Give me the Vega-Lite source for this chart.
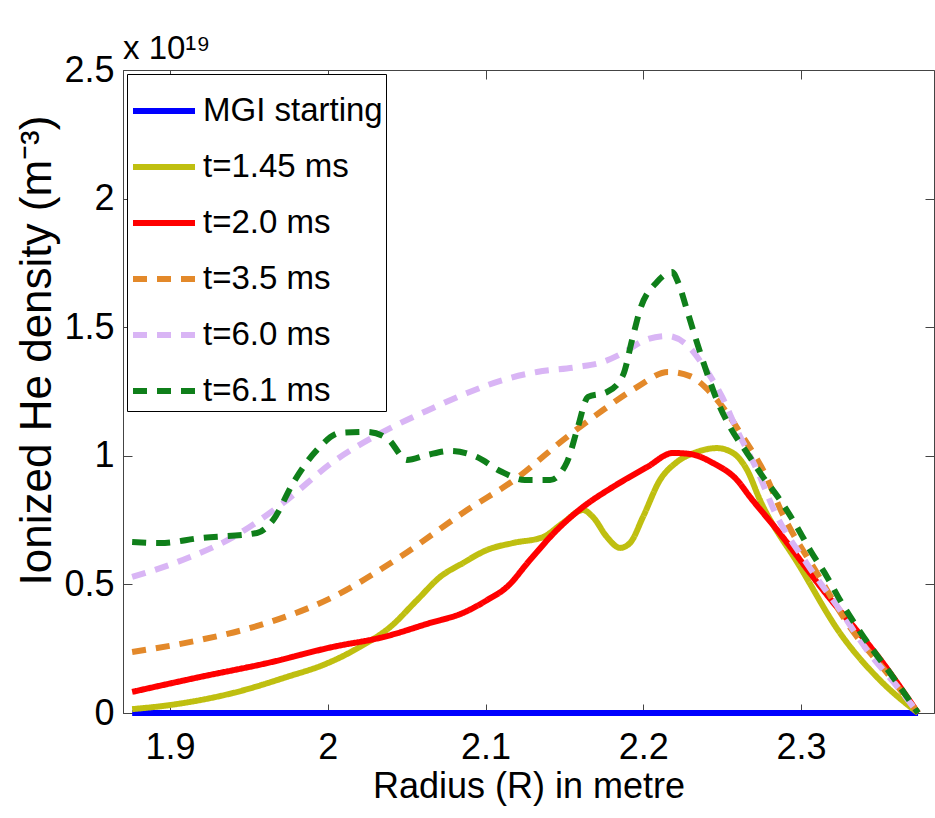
{
  "$schema": "https://vega.github.io/schema/vega-lite/v6.json",
  "width": 811,
  "height": 643,
  "autosize": {"type": "none"},
  "padding": {"left": 123, "top": 70, "right": 1, "bottom": 105},
  "background": "white",
  "title": {"text": "x 10¹⁹", "anchor": "start", "frame": "group", "font": "Liberation Sans", "fontSize": 33, "fontWeight": "normal", "color": "black", "offset": -14},
  "config": {"view": {"stroke": "#444", "strokeWidth": 1}},
  "data": {"values": [
    {"series": "MGI starting", "r": 1.876, "n": 0},
    {"series": "MGI starting", "r": 2.3742, "n": 0},
    {"series": "t=1.45 ms", "r": 1.876, "n": 0.015},
    {"series": "t=1.45 ms", "r": 1.9, "n": 0.031},
    {"series": "t=1.45 ms", "r": 1.94, "n": 0.078},
    {"series": "t=1.45 ms", "r": 1.974, "n": 0.14},
    {"series": "t=1.45 ms", "r": 2.0, "n": 0.194},
    {"series": "t=1.45 ms", "r": 2.0204, "n": 0.257},
    {"series": "t=1.45 ms", "r": 2.0395, "n": 0.334},
    {"series": "t=1.45 ms", "r": 2.0566, "n": 0.439},
    {"series": "t=1.45 ms", "r": 2.0712, "n": 0.529},
    {"series": "t=1.45 ms", "r": 2.0857, "n": 0.583},
    {"series": "t=1.45 ms", "r": 2.101, "n": 0.634},
    {"series": "t=1.45 ms", "r": 2.1174, "n": 0.661},
    {"series": "t=1.45 ms", "r": 2.1364, "n": 0.684},
    {"series": "t=1.45 ms", "r": 2.1491, "n": 0.739},
    {"series": "t=1.45 ms", "r": 2.1618, "n": 0.789},
    {"series": "t=1.45 ms", "r": 2.1681, "n": 0.762},
    {"series": "t=1.45 ms", "r": 2.177, "n": 0.684},
    {"series": "t=1.45 ms", "r": 2.1853, "n": 0.642},
    {"series": "t=1.45 ms", "r": 2.1916, "n": 0.661},
    {"series": "t=1.45 ms", "r": 2.1998, "n": 0.762},
    {"series": "t=1.45 ms", "r": 2.2106, "n": 0.906},
    {"series": "t=1.45 ms", "r": 2.2214, "n": 0.976},
    {"series": "t=1.45 ms", "r": 2.2341, "n": 1.015},
    {"series": "t=1.45 ms", "r": 2.2467, "n": 1.03},
    {"series": "t=1.45 ms", "r": 2.2569, "n": 1.011},
    {"series": "t=1.45 ms", "r": 2.2658, "n": 0.945},
    {"series": "t=1.45 ms", "r": 2.274, "n": 0.828},
    {"series": "t=1.45 ms", "r": 2.2994, "n": 0.568},
    {"series": "t=1.45 ms", "r": 2.3247, "n": 0.311},
    {"series": "t=1.45 ms", "r": 2.35, "n": 0.128},
    {"series": "t=1.45 ms", "r": 2.3742, "n": 0},
    {"series": "t=2.0 ms", "r": 1.876, "n": 0.082},
    {"series": "t=2.0 ms", "r": 1.919, "n": 0.14},
    {"series": "t=2.0 ms", "r": 1.9615, "n": 0.194},
    {"series": "t=2.0 ms", "r": 2.0033, "n": 0.257},
    {"series": "t=2.0 ms", "r": 2.035, "n": 0.295},
    {"series": "t=2.0 ms", "r": 2.0648, "n": 0.35},
    {"series": "t=2.0 ms", "r": 2.0857, "n": 0.389},
    {"series": "t=2.0 ms", "r": 2.101, "n": 0.439},
    {"series": "t=2.0 ms", "r": 2.1136, "n": 0.49},
    {"series": "t=2.0 ms", "r": 2.1282, "n": 0.595},
    {"series": "t=2.0 ms", "r": 2.1453, "n": 0.712},
    {"series": "t=2.0 ms", "r": 2.1618, "n": 0.801},
    {"series": "t=2.0 ms", "r": 2.1808, "n": 0.879},
    {"series": "t=2.0 ms", "r": 2.2024, "n": 0.956},
    {"series": "t=2.0 ms", "r": 2.2189, "n": 1.011},
    {"series": "t=2.0 ms", "r": 2.2296, "n": 1.007},
    {"series": "t=2.0 ms", "r": 2.2442, "n": 0.972},
    {"series": "t=2.0 ms", "r": 2.2594, "n": 0.906},
    {"series": "t=2.0 ms", "r": 2.2677, "n": 0.84},
    {"series": "t=2.0 ms", "r": 2.2848, "n": 0.712},
    {"series": "t=2.0 ms", "r": 2.314, "n": 0.478},
    {"series": "t=2.0 ms", "r": 2.352, "n": 0.194},
    {"series": "t=2.0 ms", "r": 2.3742, "n": 0},
    {"series": "t=3.5 ms", "r": 1.876, "n": 0.237},
    {"series": "t=3.5 ms", "r": 1.919, "n": 0.284},
    {"series": "t=3.5 ms", "r": 1.9615, "n": 0.35},
    {"series": "t=3.5 ms", "r": 2.0033, "n": 0.451},
    {"series": "t=3.5 ms", "r": 2.0458, "n": 0.607},
    {"series": "t=3.5 ms", "r": 2.0883, "n": 0.789},
    {"series": "t=3.5 ms", "r": 2.12, "n": 0.914},
    {"series": "t=3.5 ms", "r": 2.1491, "n": 1.061},
    {"series": "t=3.5 ms", "r": 2.1745, "n": 1.178},
    {"series": "t=3.5 ms", "r": 2.196, "n": 1.267},
    {"series": "t=3.5 ms", "r": 2.2157, "n": 1.326},
    {"series": "t=3.5 ms", "r": 2.2296, "n": 1.31},
    {"series": "t=3.5 ms", "r": 2.241, "n": 1.256},
    {"series": "t=3.5 ms", "r": 2.2518, "n": 1.178},
    {"series": "t=3.5 ms", "r": 2.2632, "n": 1.073},
    {"series": "t=3.5 ms", "r": 2.2759, "n": 0.945},
    {"series": "t=3.5 ms", "r": 2.2886, "n": 0.77},
    {"series": "t=3.5 ms", "r": 2.3101, "n": 0.544},
    {"series": "t=3.5 ms", "r": 2.331, "n": 0.334},
    {"series": "t=3.5 ms", "r": 2.3545, "n": 0.156},
    {"series": "t=3.5 ms", "r": 2.3742, "n": 0},
    {"series": "t=6.0 ms", "r": 1.876, "n": 0.529},
    {"series": "t=6.0 ms", "r": 1.908, "n": 0.595},
    {"series": "t=6.0 ms", "r": 1.94, "n": 0.684},
    {"series": "t=6.0 ms", "r": 1.9716, "n": 0.816},
    {"series": "t=6.0 ms", "r": 2.0033, "n": 0.976},
    {"series": "t=6.0 ms", "r": 2.035, "n": 1.093},
    {"series": "t=6.0 ms", "r": 2.0667, "n": 1.186},
    {"series": "t=6.0 ms", "r": 2.0883, "n": 1.244},
    {"series": "t=6.0 ms", "r": 2.1111, "n": 1.295},
    {"series": "t=6.0 ms", "r": 2.1326, "n": 1.326},
    {"series": "t=6.0 ms", "r": 2.158, "n": 1.345},
    {"series": "t=6.0 ms", "r": 2.1745, "n": 1.365},
    {"series": "t=6.0 ms", "r": 2.1872, "n": 1.4},
    {"series": "t=6.0 ms", "r": 2.2011, "n": 1.45},
    {"series": "t=6.0 ms", "r": 2.2151, "n": 1.466},
    {"series": "t=6.0 ms", "r": 2.2284, "n": 1.427},
    {"series": "t=6.0 ms", "r": 2.2391, "n": 1.341},
    {"series": "t=6.0 ms", "r": 2.25, "n": 1.229},
    {"series": "t=6.0 ms", "r": 2.2594, "n": 1.1},
    {"series": "t=6.0 ms", "r": 2.2721, "n": 0.945},
    {"series": "t=6.0 ms", "r": 2.2835, "n": 0.78},
    {"series": "t=6.0 ms", "r": 2.3038, "n": 0.58},
    {"series": "t=6.0 ms", "r": 2.3247, "n": 0.4},
    {"series": "t=6.0 ms", "r": 2.3418, "n": 0.245},
    {"series": "t=6.0 ms", "r": 2.3628, "n": 0.089},
    {"series": "t=6.0 ms", "r": 2.3742, "n": 0},
    {"series": "t=6.1 ms", "r": 1.876, "n": 0.665},
    {"series": "t=6.1 ms", "r": 1.8937, "n": 0.661},
    {"series": "t=6.1 ms", "r": 1.919, "n": 0.68},
    {"series": "t=6.1 ms", "r": 1.9552, "n": 0.7},
    {"series": "t=6.1 ms", "r": 1.9653, "n": 0.75},
    {"series": "t=6.1 ms", "r": 1.978, "n": 0.894},
    {"series": "t=6.1 ms", "r": 1.9932, "n": 1.023},
    {"series": "t=6.1 ms", "r": 2.0078, "n": 1.089},
    {"series": "t=6.1 ms", "r": 2.0249, "n": 1.093},
    {"series": "t=6.1 ms", "r": 2.0382, "n": 1.065},
    {"series": "t=6.1 ms", "r": 2.0502, "n": 0.984},
    {"series": "t=6.1 ms", "r": 2.0629, "n": 1.003},
    {"series": "t=6.1 ms", "r": 2.0775, "n": 1.019},
    {"series": "t=6.1 ms", "r": 2.0946, "n": 0.995},
    {"series": "t=6.1 ms", "r": 2.1092, "n": 0.941},
    {"series": "t=6.1 ms", "r": 2.125, "n": 0.906},
    {"series": "t=6.1 ms", "r": 2.1409, "n": 0.906},
    {"series": "t=6.1 ms", "r": 2.1517, "n": 0.976},
    {"series": "t=6.1 ms", "r": 2.158, "n": 1.1},
    {"series": "t=6.1 ms", "r": 2.165, "n": 1.229},
    {"series": "t=6.1 ms", "r": 2.177, "n": 1.248},
    {"series": "t=6.1 ms", "r": 2.1872, "n": 1.314},
    {"series": "t=6.1 ms", "r": 2.1929, "n": 1.45},
    {"series": "t=6.1 ms", "r": 2.1979, "n": 1.567},
    {"series": "t=6.1 ms", "r": 2.2087, "n": 1.676},
    {"series": "t=6.1 ms", "r": 2.2182, "n": 1.715},
    {"series": "t=6.1 ms", "r": 2.222, "n": 1.676},
    {"series": "t=6.1 ms", "r": 2.2277, "n": 1.567},
    {"series": "t=6.1 ms", "r": 2.2341, "n": 1.439},
    {"series": "t=6.1 ms", "r": 2.2404, "n": 1.322},
    {"series": "t=6.1 ms", "r": 2.2467, "n": 1.217},
    {"series": "t=6.1 ms", "r": 2.255, "n": 1.112},
    {"series": "t=6.1 ms", "r": 2.2658, "n": 1.011},
    {"series": "t=6.1 ms", "r": 2.2759, "n": 0.918},
    {"series": "t=6.1 ms", "r": 2.2867, "n": 0.828},
    {"series": "t=6.1 ms", "r": 2.2975, "n": 0.723},
    {"series": "t=6.1 ms", "r": 2.3057, "n": 0.634},
    {"series": "t=6.1 ms", "r": 2.3165, "n": 0.529},
    {"series": "t=6.1 ms", "r": 2.3247, "n": 0.439},
    {"series": "t=6.1 ms", "r": 2.3355, "n": 0.334},
    {"series": "t=6.1 ms", "r": 2.3456, "n": 0.245},
    {"series": "t=6.1 ms", "r": 2.3564, "n": 0.156},
    {"series": "t=6.1 ms", "r": 2.3672, "n": 0.062},
    {"series": "t=6.1 ms", "r": 2.3742, "n": 0}
  ]},
  "resolve": {"axis": {"x": "independent", "y": "independent"}},
  "layer": [
    {
      "mark": {"type": "line", "strokeWidth": 6, "strokeCap": "butt", "interpolate": "monotone", "clip": false},
      "encoding": {
        "x": {
          "field": "r", "type": "quantitative",
          "scale": {"domain": [1.8702, 2.3843], "nice": false, "zero": false},
          "axis": {
            "orient": "bottom",
            "values": [1.9, 2.0, 2.1, 2.2, 2.3], "format": "~g",
            "title": "Radius (R) in metre", "grid": false,
            "labelFont": "Liberation Sans", "labelFontSize": 36, "labelColor": "black",
            "titleFont": "Liberation Sans", "titleFontSize": 36, "titleFontWeight": "normal", "titleColor": "black",
            "domainColor": "#444", "tickColor": "#444", "tickSize": -9, "labelPadding": 26, "titlePadding": 4
          }
        },
        "y": {
          "field": "n", "type": "quantitative",
          "scale": {"domain": [0, 2.5], "nice": false},
          "axis": {
            "orient": "left",
            "values": [0, 0.5, 1, 1.5, 2, 2.5], "format": "~g",
            "title": "Ionized He density (m⁻³)", "grid": false,
            "labelFont": "Liberation Sans", "labelFontSize": 36, "labelColor": "black",
            "titleFont": "Liberation Sans", "titleFontSize": 44, "titleFontWeight": "normal", "titleColor": "black",
            "titleY": 280, "titleAlign": "center",
            "domainColor": "#444", "tickColor": "#444", "tickSize": -9, "labelPadding": 18, "titlePadding": 4
          }
        },
        "color": {
          "field": "series", "type": "nominal",
          "scale": {
            "domain": ["MGI starting", "t=1.45 ms", "t=2.0 ms", "t=3.5 ms", "t=6.0 ms", "t=6.1 ms"],
            "range": ["#0000FF", "#BFBF10", "#FF0000", "#E3892A", "#D9B5F5", "#0F7F1A"]
          },
          "legend": {
            "title": null, "orient": "top-left", "offset": 4, "titlePadding": 0,
            "labelFont": "Liberation Sans", "labelFontSize": 33, "labelColor": "black", "labelLimit": 400,
            "symbolType": "stroke", "symbolSize": 3844, "symbolStrokeWidth": 6,
            "rowPadding": 5, "labelOffset": 5,
            "strokeColor": "black", "fillColor": "white", "padding": 3
          }
        },
        "strokeDash": {
          "field": "series", "type": "nominal",
          "scale": {
            "domain": ["MGI starting", "t=1.45 ms", "t=2.0 ms", "t=3.5 ms", "t=6.0 ms", "t=6.1 ms"],
            "range": [[1, 0], [1, 0], [1, 0], [14, 10], [14, 10], [14, 10]]
          },
          "legend": {
            "title": null, "orient": "top-left", "offset": 4, "titlePadding": 0,
            "labelFont": "Liberation Sans", "labelFontSize": 33, "labelColor": "black", "labelLimit": 400,
            "symbolType": "stroke", "symbolSize": 3844, "symbolStrokeWidth": 6,
            "rowPadding": 5, "labelOffset": 5,
            "strokeColor": "black", "fillColor": "white", "padding": 3
          }
        }
      }
    },
    {
      "mark": {"type": "point", "opacity": 0},
      "encoding": {
        "x": {
          "field": "r", "type": "quantitative",
          "axis": {"orient": "top", "values": [1.9, 2.0, 2.1, 2.2, 2.3], "labels": false, "title": null, "grid": false, "domain": false, "tickColor": "#444", "tickSize": -9}
        },
        "y": {
          "field": "n", "type": "quantitative",
          "axis": {"orient": "right", "values": [0, 0.5, 1, 1.5, 2, 2.5], "labels": false, "title": null, "grid": false, "domain": false, "tickColor": "#444", "tickSize": -9}
        }
      }
    }
  ]
}
